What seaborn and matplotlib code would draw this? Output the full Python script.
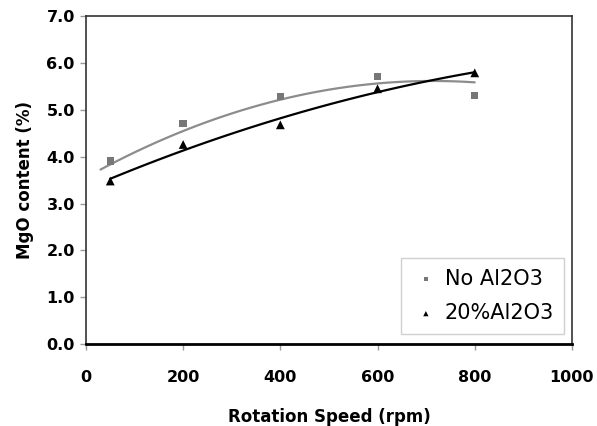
import numpy as np
import pandas as pd
import seaborn as sns
import matplotlib
matplotlib.use("Agg")
import matplotlib.pyplot as plt

speed = [50, 200, 400, 600, 800]
mgo_no_al2o3 = [3.91, 4.71, 5.29, 5.71, 5.30]
mgo_20_al2o3 = [3.48, 4.26, 4.68, 5.45, 5.79]

# grey trendline (it doesn't follow a plain fit of the squares)
trend_no_speed = [30, 200, 400, 600, 800]
trend_no_mgo = [3.73, 4.53, 5.24, 5.55, 5.59]

x_ticks = [0, 200, 400, 600, 800, 1000]
y_ticks = [0.0, 1.0, 2.0, 3.0, 4.0, 5.0, 6.0, 7.0]

df_no = pd.DataFrame({"speed": speed, "mgo": mgo_no_al2o3})
df_20 = pd.DataFrame({"speed": speed, "mgo": mgo_20_al2o3})
df_trend_no = pd.DataFrame({"speed": trend_no_speed, "mgo": trend_no_mgo})

sns.set_style("ticks")
plt.rcParams["font.family"] = ["DejaVu Sans"]
plt.rcParams["text.color"] = "black"
plt.rcParams["axes.labelcolor"] = "black"
plt.rcParams["xtick.labelcolor"] = "black"
plt.rcParams["ytick.labelcolor"] = "black"

fig, ax = plt.subplots(figsize=(5.97, 4.26), dpi=100)

# trendlines (2nd order polynomial)
sns.regplot(data=df_trend_no, x="speed", y="mgo", order=2, ci=None, scatter=False,
            truncate=True, ax=ax, line_kws={"color": "#8c8c8c", "lw": 1.6})
sns.regplot(data=df_20, x="speed", y="mgo", order=2, ci=None, scatter=False,
            truncate=True, ax=ax, line_kws={"color": "black", "lw": 1.6})

sns.scatterplot(data=df_no, x="speed", y="mgo", marker="s", color="#777777",
                s=28, edgecolor="none", ax=ax, label="No Al2O3", zorder=3)
sns.scatterplot(data=df_20, x="speed", y="mgo", marker="^", color="black",
                s=40, edgecolor="none", ax=ax, label="20%Al2O3", zorder=3)

ax.set_xlim(0, 1000)
ax.set_ylim(0, 7.0)
ax.set_xticks(x_ticks)
ax.set_yticks(y_ticks)
ax.set_yticklabels([f"{v:.1f}" for v in y_ticks])
for lbl in ax.get_xticklabels() + ax.get_yticklabels():
    lbl.set_fontweight("bold")
ax.tick_params(labelsize=11.5, length=4, width=1, color="#999999", labelcolor="black")
ax.tick_params(axis="x", pad=15)
ax.tick_params(axis="y", pad=4)

ax.set_xlabel("Rotation Speed (rpm)", fontsize=12, fontweight="bold", labelpad=16)
ax.set_ylabel("MgO content (%)", fontsize=12, fontweight="bold", labelpad=9)

for s in ax.spines.values():
    s.set_color("#333333")
    s.set_linewidth(1.2)
ax.spines["bottom"].set_linewidth(2.0)
ax.spines["bottom"].set_color("black")

leg = ax.legend(loc="upper left", bbox_to_anchor=(0.648, 0.262), borderaxespad=0,
                fontsize=15, markerscale=0.6, handletextpad=0.2, borderpad=0.5,
                fancybox=False, framealpha=1, edgecolor="#d0d0d0",
                labelspacing=0.7, handlelength=1.4)
leg.get_frame().set_linewidth(1.0)
for t in leg.get_texts():
    t.set_color("black")

fig.subplots_adjust(left=0.144, right=0.958, top=0.962, bottom=0.1925)
fig.savefig("out.png", dpi=100)
